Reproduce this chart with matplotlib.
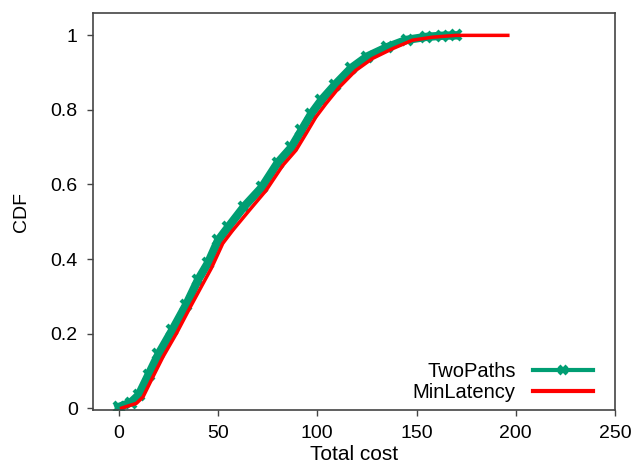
import numpy as np
import matplotlib
matplotlib.use('Agg')
import matplotlib.pyplot as plt
from matplotlib.lines import Line2D

plt.rcParams['font.family'] = ['Liberation Sans', 'DejaVu Sans']

# CDF of total cost
twopaths_x = [0, 6, 10, 15, 20, 27, 34, 40, 45, 50, 55, 63, 72, 80, 87, 92, 97, 102,
              109, 117, 125, 135, 145, 155, 163, 170]
twopaths_y = [0.003, 0.015, 0.035, 0.09, 0.145, 0.21, 0.278, 0.345, 0.39, 0.45, 0.485,
              0.54, 0.592, 0.658, 0.70, 0.745, 0.79, 0.826, 0.868, 0.912, 0.943,
              0.968, 0.988, 0.996, 0.999, 1.0]
minlat_x = [1.4, 8.9, 12.2, 17.2, 22.3, 29.0, 35.7, 42.4, 46.6, 52.4, 57.4, 65.8, 74.2,
            82.6, 89.3, 94.3, 99.3, 104.4, 111.1, 119.4, 127.8, 137.8, 147.9, 157.9,
            169.7, 196]
minlat_y = [0.0, 0.013, 0.030, 0.084, 0.138, 0.200, 0.268, 0.334, 0.375, 0.442, 0.477,
            0.531, 0.584, 0.651, 0.692, 0.736, 0.781, 0.817, 0.861, 0.906, 0.938,
            0.964, 0.987, 0.995, 1.0, 1.0]

fig = plt.figure(figsize=(6.34, 4.65), dpi=100)
ax = fig.add_axes([93 / 634, 55 / 465, 522 / 634, 397 / 465])

green = '#009E73'
red = '#FF0000'
ax.plot(twopaths_x, twopaths_y, color=green, lw=6, marker='x', ms=7, mew=3)
ax.plot(minlat_x, minlat_y, color=red, lw=2.5)

ax.set_xlim(-13, 250)
ax.set_ylim(-0.005, 1.06)
ax.set_xticks([0, 50, 100, 150, 200, 250])
ax.set_yticks([0, 0.2, 0.4, 0.6, 0.8, 1])
ax.set_yticklabels(['0', '0.2', '0.4', '0.6', '0.8', '1'])
ax.tick_params(labelsize=14, length=4, width=1, color='#444444', pad=7)
for s in ax.spines.values():
    s.set_color('#444444')
    s.set_linewidth(1.2)

ax.set_xlabel('Total cost', fontsize=15, labelpad=2)
ax.set_ylabel('CDF', fontsize=14, labelpad=15)

handles = [Line2D([], [], color=green, lw=3, marker='x', ms=6, mew=3),
           Line2D([], [], color=red, lw=3)]
leg = ax.legend(handles, ['TwoPaths', 'MinLatency'], loc='lower right',
                bbox_to_anchor=(0.958, 0.02), frameon=False, markerfirst=False,
                fontsize=14.5, handlelength=3.0, borderaxespad=0, borderpad=0,
                labelspacing=0.1, handletextpad=0.85)

fig.savefig('out.png', dpi=100)
